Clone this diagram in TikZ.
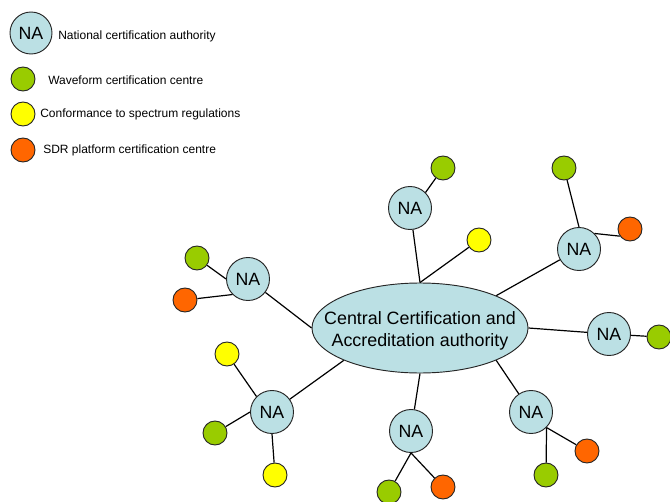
\documentclass[tikz,border=0pt]{standalone}
\usepackage{fontspec}
\setmainfont{Liberation Sans}
\usepackage{tikz}
\usetikzlibrary{shapes.geometric}
\definecolor{nablue}{RGB}{187,224,228}
\definecolor{wfgreen}{RGB}{153,204,0}
\definecolor{csyellow}{RGB}{255,255,0}
\definecolor{sdrorange}{RGB}{255,102,0}

\begin{document}
\begin{tikzpicture}[x=0.75pt, y=-0.75pt,
		na/.style={circle, draw=black!85, fill=nablue, line width=0.7pt, minimum size=32.25pt, inner sep=0pt, font=\fontsize{13.3}{16}\selectfont},
		dot/.style={circle, draw=black!85, line width=0.7pt, minimum size=18pt, inner sep=0pt},
		wf/.style={dot, fill=wfgreen},
		cs/.style={dot, fill=csyellow},
		sdr/.style={dot, fill=sdrorange},
		key/.style={anchor=west, inner sep=0pt, font=\fontsize{9}{11}\selectfont},
		link/.style={line width=0.9pt}]
		%%%%% START %%%%%
		\useasboundingbox (0,0) rectangle (670,502);
		
		% legend
		\node[na, minimum size=31.5pt] (keyna) at (31,33) {NA};
		\node[key] (keynatxt) at (58,36) {National certification authority};
		\node[wf] (keywf) at (23,79) {};
		\node[key] (keywftxt) at (48,80) {Waveform certification centre};
		\node[cs] (keycs) at (23,114) {};
		\node[key] (keycstxt) at (40,114) {Conformance to spectrum regulations};
		\node[sdr] (keysdr) at (23,150) {};
		\node[key] (keysdrtxt) at (43,150) {SDR platform certification centre};
		
		% central authority
		\node[ellipse, draw=black!85, fill=nablue, line width=0.7pt, minimum width=162pt, minimum height=67.5pt, inner sep=0pt] (cca) at (420,328) {};
		\node[align=center, inner sep=0pt, font=\fontsize{13.4}{16.8}\selectfont] (ccatxt) at (420,331) {Central Certification and\\Accreditation authority};
		
		% national authorities
		\node[na] (tna) at (410,208) {NA};
		\node[na] (trna) at (579,249) {NA};
		\node[na] (lna) at (248,279) {NA};
		\node[na] (rna) at (609,334) {NA};
		\node[na] (blna) at (272,412) {NA};
		\node[na] (bmna) at (411,431) {NA};
		\node[na] (brna) at (531,412) {NA};
		
		% centres
		\node[wf] (tg) at (443,168) {};
		\node[cs] (ty) at (479,240) {};
		\node[wf] (trg) at (564,168) {};
		\node[sdr] (tro) at (630,229) {};
		\node[wf] (lg) at (197,258) {};
		\node[sdr] (lo) at (185,300) {};
		\node[wf] (rg) at (659,337) {};
		\node[cs] (bly1) at (227,354) {};
		\node[wf] (blg) at (215,433) {};
		\node[cs] (bly2) at (275,475) {};
		\node[wf] (bmg) at (389,492) {};
		\node[sdr] (bmo) at (443,487) {};
		\node[sdr] (bro) at (587,451) {};
		\node[wf] (brg) at (546,475) {};
		
		% links to the central authority
		\draw[link] (cca.north) -- (tna);
		\draw[link] (cca.north) -- (ty);
		\draw[link] (cca.23) -- (trna);
		\draw[link] (cca.west) -- (lna);
		\draw[link] (cca.east) -- (rna);
		\draw[link] (cca.203) -- (blna);
		\draw[link] (cca.south) -- (bmna);
		\draw[link] (cca.-23) -- (brna);
		
		% links to the centres
		\draw[link] (tna.north east) -- (tg);
		\draw[link] (trna.north) -- (trg);
		\draw[link] (trna.45) -- (tro.-145);
		\draw[link] (lna.west) -- (lg);
		\draw[link] (lna.south west) -- (lo);
		\draw[link] (rna) -- (rg);
		\draw[link] (blna.north west) -- (bly1);
		\draw[link] (blna.west) -- (blg);
		\draw[link] (blna.south) -- (bly2);
		\draw[link] (bmna.south) -- (bmg);
		\draw[link] (bmna.south) -- (bmo);
		\draw[link] (brna.south east) -- (bro);
		\draw[link] (brna.south east) -- (brg);
		
		%%%%% END %%%%%
	\end{tikzpicture}
\end{document}
